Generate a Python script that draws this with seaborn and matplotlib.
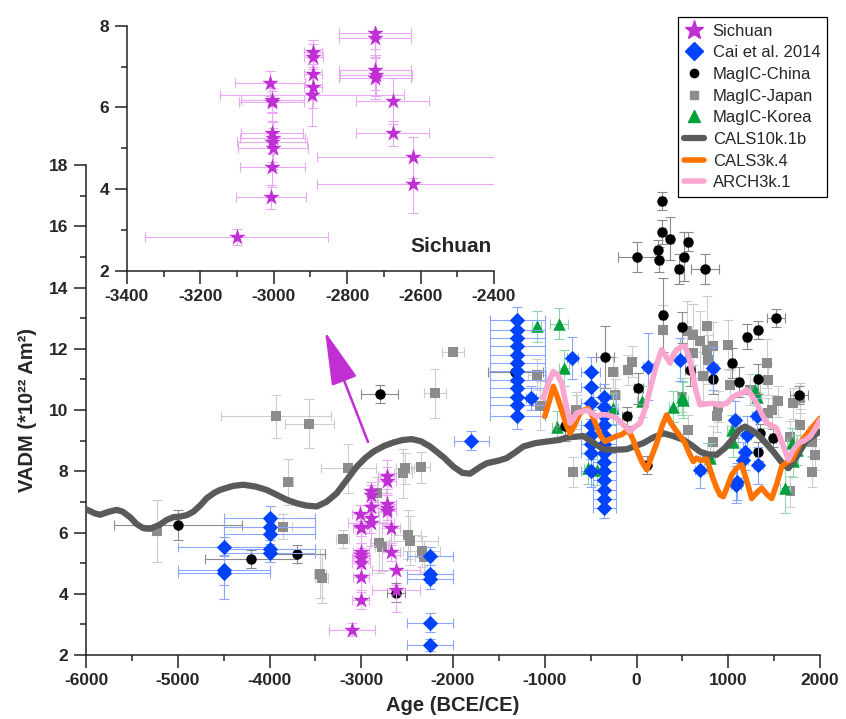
import matplotlib
matplotlib.use("Agg")
import matplotlib.pyplot as plt
from matplotlib.lines import Line2D
from matplotlib.ticker import MultipleLocator
import seaborn as sns

# ---- Sichuan (this study) ----
sich_x = [-3010, -3006, -3004, -3005, -3003, -3005, -3002, -3004, -3008, -3101,
          -2894, -2892, -2894, -2894, -2896, -2724, -2724, -2724, -2722, -2724,
          -2676, -2676, -2622, -2622]
sich_y = [6.59, 6.14, 6.18, 5.37, 5.25, 5.16, 5.00, 4.55, 3.81, 2.83,
          7.36, 7.24, 6.82, 6.49, 6.30, 7.83, 7.69, 6.92, 6.79, 6.71,
          6.16, 5.36, 4.78, 4.12]
sich_xe = [95, 88, 85, 85, 88, 95, 95, 88, 95, 250,
           25, 25, 25, 25, 250, 98, 98, 98, 98, 98,
           100, 100, 260, 260]
sich_ye = [0.30, 0.25, 0.30, 0.50, 0.40, 0.50, 0.50, 0.50, 0.30, 0.20,
           0.30, 0.30, 0.50, 0.50, 0.75, 0.55, 0.45, 0.50, 0.50, 0.50,
           0.57, 0.30, 0.50, 0.70]

# ---- Cai et al. 2014 ----
cai_x = [-4500, -4500, -4500, -4000, -4000, -4000, -4000, -4000,
         -2250, -2250, -2250, -2250, -2250, -1800,
         -1300, -1300, -1300, -1300, -1300, -1300, -1300, -1300, -1300, -1300, -1300, -1300,
         -1150, -700,
         -500, -500, -500, -500, -500, -500, -500, -500,
         -350, -350, -350, -350, -350, -350, -350, -350, -350, -350, -350, -350, -350,
         125, 475, 830, 1075, 1200, 1180, 1325, 1090, 690, 1310, 1165, 1085]
cai_y = [5.54, 4.78, 4.69, 6.47, 6.17, 5.95, 5.45, 5.34,
         5.24, 4.65, 4.47, 3.06, 2.33, 9.00,
         12.95, 12.62, 12.35, 12.08, 11.80, 11.53, 11.26, 10.99, 10.71, 10.44, 10.17, 9.79,
         10.39, 11.70,
         11.23, 10.75, 10.22, 9.50, 9.20, 8.90, 8.60, 8.00,
         10.44, 10.10, 9.80, 9.50, 9.20, 8.90, 8.60, 8.30, 8.00, 7.70, 7.40, 7.10, 6.79,
         11.42, 11.64, 11.36, 9.68, 9.19, 8.64, 8.20, 7.66, 8.05, 9.79, 8.37, 7.56]
cai_xe = [500, 500, 500, 500, 500, 500, 500, 500,
          250, 250, 250, 250, 250, 190,
          300, 300, 300, 300, 300, 300, 300, 300, 300, 300, 300, 300,
          50, 60,
          100, 100, 100, 100, 100, 100, 100, 100,
          125, 125, 125, 125, 125, 125, 125, 125, 125, 125, 125, 125, 125,
          50, 50, 50, 50, 50, 50, 50, 50, 50, 50, 50, 50]
cai_ye = [0.30, 0.50, 0.85, 0.40, 0.40, 0.40, 0.40, 0.30,
          0.30, 0.30, 0.30, 0.30, 0.20, 0.30,
          0.40, 0.30, 0.30, 0.30, 0.30, 0.30, 0.30, 0.30, 0.30, 0.30, 0.30, 0.40,
          0.40, 0.70,
          0.50, 0.50, 0.50, 0.50, 0.50, 0.50, 0.50, 0.50,
          0.40, 0.30, 0.30, 0.30, 0.30, 0.30, 0.30, 0.30, 0.30, 0.30, 0.30, 0.30, 0.30,
          1.10, 0.70, 0.70, 0.60, 0.60, 0.60, 0.60, 0.60, 0.60, 0.60, 0.60, 0.60]

# ---- MagIC-China ----
chn_x = [-5000, -4200, -3700, -2800, -2625, -1324, -779, -343, -107, 19,
         8, 231, 249, 275, 275, 365, 565, 520, 463, 746,
         285, 492, 583, 837, 1044, 1117, 1320, 1200, 1320, 1520,
         1774, 1490, 1320, 111, 1346]
chn_y = [6.25, 5.14, 5.29, 10.52, 4.04, 11.23, 9.48, 11.73, 9.79, 10.71,
         15.00, 15.24, 14.91, 16.82, 15.82, 15.60, 15.50, 15.00, 14.60, 14.60,
         13.10, 12.70, 11.30, 11.01, 11.53, 10.91, 11.01, 12.40, 12.62, 13.00,
         10.50, 9.08, 8.64, 8.20, 9.24]
chn_xe = [700, 500, 300, 200, 100, 300, 100, 100, 50, 50,
          215, 30, 30, 30, 30, 30, 30, 30, 30, 155,
          30, 30, 50, 30, 30, 30, 30, 30, 30, 100,
          100, 30, 30, 30, 30]
chn_ye = [0.50, 0.30, 0.30, 0.30, 0.30, 0.30, 0.50, 1.00, 0.30, 0.50,
          0.50, 0.30, 0.40, 0.30, 0.40, 0.70, 0.30, 0.80, 0.50, 0.50,
          1.20, 0.50, 0.50, 0.50, 0.50, 0.50, 0.50, 0.40, 0.30, 0.30,
          0.30, 0.30, 0.30, 0.30, 0.30]

# ---- MagIC-Japan ----
jpn_x = [-5231, -3929, -3850, -3795, -3566, -3450, -3431, -3203, -3141, -2832,
         -2803, -2777, -2548, -2523, -2495, -2469, -2353, -2342, -2316, -2196,
         -2004, -1088, -1052, -696, -660, -252, -234, -96, -52, 292,
         546, 619, 765, 692, 765, 837, 1000, 783, 728, 1019,
         892, 1237, 1419, 1437, 1546, 1474, 1710, 1782, 1782, 1673,
         1909, 1945, 1909, 1673, 874, 837, 765, 565, 619, 492,
         -652, 1437]
jpn_y = [6.05, 9.79, 6.19, 7.64, 9.55, 4.65, 4.51, 5.78, 8.10, 7.30,
         5.67, 5.54, 7.94, 8.10, 5.92, 5.73, 8.13, 5.38, 5.21, 10.55,
         11.91, 11.15, 10.14, 7.97, 9.99, 11.23, 10.50, 11.31, 11.58, 12.62,
         12.57, 12.46, 12.73, 12.24, 11.97, 12.08, 12.13, 11.64, 11.10, 10.82,
         10.11, 10.66, 11.53, 10.99, 10.28, 10.00, 10.22, 10.39, 9.52, 9.13,
         8.97, 8.54, 7.99, 7.34, 9.79, 8.97, 8.43, 9.35, 11.86, 10.44,
         10.00, 9.90]
jpn_xe = [30, 600, 100, 50, 270, 70, 70, 70, 300, 100,
          100, 70, 100, 100, 150, 300, 100, 200, 100, 120,
          120, 100, 100, 50, 50, 50, 50, 30, 30, 30,
          30, 30, 30, 30, 30, 30, 30, 30, 30, 30,
          30, 30, 30, 30, 30, 30, 30, 30, 30, 30,
          30, 30, 30, 30, 30, 30, 30, 30, 30, 30,
          50, 30]
jpn_ye = [1.00, 0.70, 0.40, 0.75, 0.80, 0.80, 0.80, 0.30, 0.80, 0.50,
          1.00, 0.80, 0.80, 0.50, 0.80, 0.80, 0.50, 0.50, 0.50, 0.80,
          0.10, 0.50, 0.80, 0.50, 0.60, 0.50, 0.50, 0.50, 0.50, 0.80,
          1.00, 1.00, 1.00, 1.00, 0.80, 0.80, 0.80, 0.80, 0.80, 0.50,
          0.50, 0.50, 0.80, 0.50, 0.50, 0.50, 0.50, 0.50, 0.50, 0.50,
          0.50, 0.50, 0.50, 0.50, 0.50, 0.50, 0.50, 0.50, 0.80, 0.50,
          0.50, 0.50]

# ---- MagIC-Korea ----
kor_x = [-1088, -842, -790, -870, -525, -434, -252, 56, 401, 492,
         510, 801, 1037, 1055, 1291, 1309, 1619, 1691, 1709, 1745]
kor_y = [12.73, 12.82, 11.37, 9.46, 8.10, 8.05, 10.05, 10.28, 10.11, 10.44,
         10.33, 8.43, 9.35, 8.97, 10.66, 10.44, 7.45, 8.92, 8.32, 8.70]
kor_xe = [50, 100, 50, 50, 50, 50, 50, 50, 50, 50,
          50, 50, 50, 50, 50, 50, 50, 50, 50, 50]
kor_ye = [0.50, 0.50, 0.60, 0.50, 0.50, 0.50, 0.50, 0.50, 0.50, 0.60,
          0.60, 0.50, 0.50, 0.50, 0.50, 0.50, 0.80, 0.50, 0.50, 0.50]

# ---- field models ----
cals10_x = [-6000, -5900, -5847, -5750, -5665, -5600, -5520, -5450, -5376, -5302,
            -5200, -5121, -5050, -4975, -4900, -4830, -4750, -4685, -4600, -4540,
            -4400, -4286, -4150, -4031, -3900, -3813, -3700, -3600, -3486, -3380,
            -3268, -3150, -3050, -2950, -2868, -2750, -2650, -2550, -2450, -2350,
            -2251, -2100, -1996, -1900, -1815, -1700, -1633, -1500, -1415, -1330,
            -1233, -1100, -979, -850, -762, -580, -480, -362, -250, -107,
            74, 180, 292, 400, 510, 600, 692, 780, 874, 960,
            1055, 1120, 1182, 1250, 1327, 1400, 1491, 1580, 1655, 1750,
            1850, 1900, 2000]
cals10_y = [6.76, 6.62, 6.58, 6.68, 6.74, 6.68, 6.50, 6.28, 6.14, 6.12,
            6.25, 6.41, 6.50, 6.52, 6.57, 6.68, 6.90, 7.12, 7.30, 7.39,
            7.52, 7.56, 7.50, 7.39, 7.20, 7.07, 6.95, 6.88, 6.85, 7.00,
            7.28, 7.75, 8.15, 8.45, 8.64, 8.83, 8.94, 9.02, 9.05, 8.98,
            8.81, 8.45, 8.15, 7.95, 7.92, 8.15, 8.26, 8.35, 8.43, 8.60,
            8.81, 8.92, 8.97, 9.02, 9.10, 9.15, 8.95, 8.72, 8.70, 8.72,
            8.92, 9.10, 9.24, 9.15, 9.03, 8.85, 8.64, 8.55, 8.54, 8.75,
            9.08, 9.35, 9.46, 9.35, 9.19, 8.95, 8.64, 8.30, 8.10, 8.50,
            9.00, 9.10, 9.30]

cals3_x = [-1000, -950, -907, -860, -816, -770, -725, -670, -616, -570,
           -525, -480, -434, -390, -343, -290, -234, -160, -89, -40,
           2, 60, 111, 160, 220, 280, 329, 380, 438, 490,
           528, 580, 619, 656, 700, 765, 830, 874, 910, 946,
           990, 1037, 1090, 1146, 1200, 1255, 1310, 1364, 1420, 1473,
           1530, 1582, 1640, 1700, 1782, 1891, 2000]
cals3_y = [9.79, 10.30, 10.77, 10.40, 10.00, 9.55, 9.24, 9.55, 9.90, 10.00,
           10.05, 9.80, 9.46, 9.15, 8.97, 9.05, 9.13, 9.20, 9.35, 9.05,
           8.70, 8.30, 8.05, 8.45, 8.92, 9.50, 9.84, 9.55, 9.30, 9.10,
           8.92, 8.55, 8.32, 8.43, 8.35, 8.40, 7.80, 7.45, 7.23, 7.17,
           7.50, 7.88, 8.10, 8.21, 7.70, 7.11, 7.30, 7.45, 7.25, 7.11,
           7.60, 8.15, 8.30, 8.40, 8.92, 9.35, 9.73]

arch3_x = [-1016, -960, -907, -860, -816, -770, -725, -690, -652, -600,
           -543, -490, -434, -380, -325, -270, -216, -140, -71, -20,
           38, 100, 165, 220, 274, 320, 365, 400, 438, 480,
           528, 565, 601, 650, 692, 760, 837, 910, 983, 1040,
           1092, 1150, 1200, 1250, 1309, 1360, 1419, 1470, 1528, 1590,
           1655, 1710, 1764, 1830, 1891, 1950, 2000]
arch3_y = [10.39, 10.90, 11.26, 11.15, 10.88, 10.20, 9.57, 9.70, 9.90, 9.95,
           10.00, 9.90, 9.79, 9.85, 9.84, 9.80, 9.73, 9.50, 9.30, 9.45,
           9.57, 10.10, 10.88, 11.50, 11.97, 11.75, 11.53, 11.80, 11.97, 12.05,
           12.08, 11.80, 11.31, 10.60, 10.17, 10.20, 10.22, 10.15, 10.22, 10.40,
           10.50, 10.55, 10.66, 10.50, 10.22, 9.90, 9.57, 9.50, 9.40, 8.90,
           8.37, 8.70, 8.92, 9.00, 9.13, 9.40, 9.68]

C_SICH = "#C02FD4"
C_CAI = "#0043FF"
C_CHN = "#000000"
C_JPN = "#8C8C8C"
C_KOR = "#00A03C"
C_C10 = "#5A5A5A"
C_C3 = "#FF7300"
C_A3 = "#FBA6CE"

sns.set_theme(style="ticks")
plt.rcParams["font.family"] = ["Liberation Sans", "DejaVu Sans"]
plt.rcParams["font.weight"] = "bold"
plt.rcParams["axes.edgecolor"] = "#222222"
plt.rcParams["axes.unicode_minus"] = False

fig = plt.figure(figsize=(8.46, 7.19), dpi=100)
ax = fig.add_axes([0.1017, 0.089, 0.8676, 0.6815])


def draw_set(a, x, y, xe, ye, marker, msize, color, ecolor, z):
    a.errorbar(x, y, xerr=xe, yerr=ye, fmt="none", ecolor=ecolor,
               elinewidth=0.8, capsize=3.5, capthick=0.8, zorder=z)
    sns.scatterplot(x=x, y=y, marker=marker, s=msize ** 2, color=color,
                    linewidth=0, ax=a, zorder=z + 0.5, legend=False)


draw_set(ax, jpn_x, jpn_y, jpn_xe, jpn_ye, "s", 7.5, C_JPN, "#CDCDCD", 2)
draw_set(ax, kor_x, kor_y, kor_xe, kor_ye, "^", 9, C_KOR, "#8FD6AC", 3)
draw_set(ax, chn_x, chn_y, chn_xe, chn_ye, "o", 7.5, C_CHN, "#8A8A8A", 4)
draw_set(ax, cai_x, cai_y, cai_xe, cai_ye, "D", 7.8, C_CAI, "#8AA6FF", 5)

sns.lineplot(x=cals10_x, y=cals10_y, color=C_C10, lw=4.5, ax=ax,
             estimator=None, sort=False, zorder=6)
sns.lineplot(x=cals3_x, y=cals3_y, color=C_C3, lw=4, ax=ax,
             estimator=None, sort=False, zorder=6.2)
sns.lineplot(x=arch3_x, y=arch3_y, color=C_A3, lw=4, ax=ax,
             estimator=None, sort=False, zorder=6.4)

draw_set(ax, sich_x, sich_y, sich_xe, sich_ye, "*", 12.5, C_SICH, "#E9A9F2", 7)

ax.annotate("", xy=(-3395, 12.56), xytext=(-2927, 8.96),
            arrowprops=dict(arrowstyle="-|>,head_length=2.8,head_width=0.7",
                            color=C_SICH, lw=1.8, shrinkA=0, shrinkB=0),
            zorder=8)

ax.set_xlim(-6000, 2000)
ax.set_ylim(2, 18)
ax.set_xticks(range(-6000, 2001, 1000))
ax.set_yticks(range(2, 19, 2))
ax.xaxis.set_minor_locator(MultipleLocator(500))
ax.yaxis.set_minor_locator(MultipleLocator(1))
ax.tick_params(which="major", direction="out", length=9, width=1.1,
               labelsize=12.5, pad=4, color="#222222")
ax.tick_params(which="minor", direction="out", length=4.5, width=1.1,
               color="#222222")
ax.set_xlabel("Age (BCE/CE)", fontsize=14.5, fontweight="bold", labelpad=6)
ax.set_ylabel("VADM (*10²² Am²)", fontsize=14.5, fontweight="bold", labelpad=8)
sns.despine(ax=ax)
for sp in ax.spines.values():
    sp.set_linewidth(1.1)

# ---- inset: Sichuan close-up ----
ins = fig.add_axes([0.1501, 0.6235, 0.4338, 0.3408], facecolor="none")
draw_set(ins, sich_x, sich_y, sich_xe, sich_ye, "*", 12.5, C_SICH, "#E9A9F2", 3)
ins.set_xlim(-3400, -2400)
ins.set_ylim(2, 8)
ins.set_xticks(range(-3400, -2399, 200))
ins.set_yticks([2, 4, 6, 8])
ins.xaxis.set_minor_locator(MultipleLocator(100))
ins.yaxis.set_minor_locator(MultipleLocator(1))
ins.tick_params(which="major", direction="out", length=9, width=1.1,
                labelsize=12.5, pad=4, color="#222222")
ins.tick_params(which="minor", direction="out", length=4.5, width=1.1,
                color="#222222")
ins.text(-2517, 2.6, "Sichuan", ha="center", va="center",
         fontsize=15, fontweight="bold")
sns.despine(ax=ins)
for sp in ins.spines.values():
    sp.set_linewidth(1.1)

handles = [
    Line2D([], [], marker="*", color=C_SICH, ls="none", markersize=14, label="Sichuan"),
    Line2D([], [], marker="D", color=C_CAI, ls="none", markersize=9, label="Cai et al. 2014"),
    Line2D([], [], marker="o", color=C_CHN, ls="none", markersize=6, label="MagIC-China"),
    Line2D([], [], marker="s", color=C_JPN, ls="none", markersize=6, label="MagIC-Japan"),
    Line2D([], [], marker="^", color=C_KOR, ls="none", markersize=8, label="MagIC-Korea"),
    Line2D([], [], color=C_C10, lw=4.5, label="CALS10k.1b"),
    Line2D([], [], color=C_C3, lw=4, label="CALS3k.4"),
    Line2D([], [], color=C_A3, lw=4, label="ARCH3k.1"),
]
leg = ax.legend(handles=handles, loc="upper right",
                bbox_to_anchor=(0.9775, 0.9764), bbox_transform=fig.transFigure,
                frameon=True, fancybox=False, edgecolor="black", framealpha=1,
                prop={"weight": "normal", "size": 12}, handlelength=1.2,
                handletextpad=0.5, labelspacing=0.4, borderpad=0.4,
                borderaxespad=0)
leg.get_frame().set_linewidth(0.9)
leg.set_zorder(20)

fig.savefig("out.png", dpi=100)
